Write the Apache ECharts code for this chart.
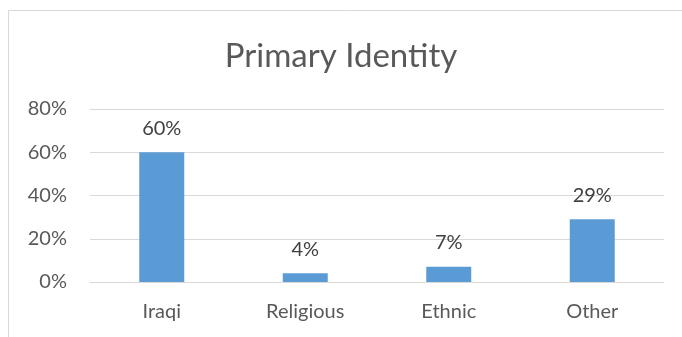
<!DOCTYPE html>
<html>
<head>
<meta charset="utf-8">
<script src="https://cdn.jsdelivr.net/npm/echarts@6/dist/echarts.min.js"></script>
<style>
  html, body { margin: 0; padding: 0; background: #fff; }
  #chart { width: 682px; height: 337px; }
</style>
</head>
<body>
<div id="chart"></div>
<script>
// Share of respondents by primary identity
const categories = ['Iraqi', 'Religious', 'Ethnic', 'Other'];
const shares = [0.60, 0.04, 0.07, 0.29];
const yTicks = { min: 0, max: 0.8, interval: 0.2 };

const font = "Lato, 'Open Sans', sans-serif";
const pct = v => Math.round(v * 100) + '%';

const chart = echarts.init(document.getElementById('chart'), null, { renderer: 'canvas' });
chart.setOption({
  animation: false,
  backgroundColor: '#ffffff',
  title: {
    text: 'Primary Identity',
    left: 'center',
    top: 35,
    textStyle: { fontFamily: font, fontSize: 33, fontWeight: 'normal', color: '#595959' }
  },
  graphic: [{
    type: 'rect',
    shape: { x: 8.5, y: 10.5, width: 700, height: 400 },
    style: { fill: 'none', stroke: '#d9d9d9', lineWidth: 1 },
    silent: true
  }],
  grid: { left: 90, right: 18, top: 109, bottom: 55 },
  xAxis: {
    type: 'category',
    data: categories,
    axisLine: { show: true, lineStyle: { color: '#d9d9d9', width: 1 } },
    axisTick: { show: false },
    axisLabel: { color: '#595959', fontFamily: font, fontSize: 20, margin: 20 }
  },
  yAxis: {
    type: 'value',
    min: yTicks.min,
    max: yTicks.max,
    interval: yTicks.interval,
    axisLine: { show: false },
    axisTick: { show: false },
    splitLine: { lineStyle: { color: '#d9d9d9', width: 1 } },
    axisLabel: { color: '#595959', fontFamily: font, fontSize: 20, margin: 23, formatter: pct }
  },
  series: [{
    type: 'bar',
    data: shares,
    barWidth: 45,
    itemStyle: { color: '#5b9bd5' },
    label: {
      show: true,
      position: 'top',
      distance: 14,
      color: '#404040',
      fontFamily: font,
      fontSize: 20,
      formatter: p => pct(p.value)
    }
  }]
});
</script>
</body>
</html>
